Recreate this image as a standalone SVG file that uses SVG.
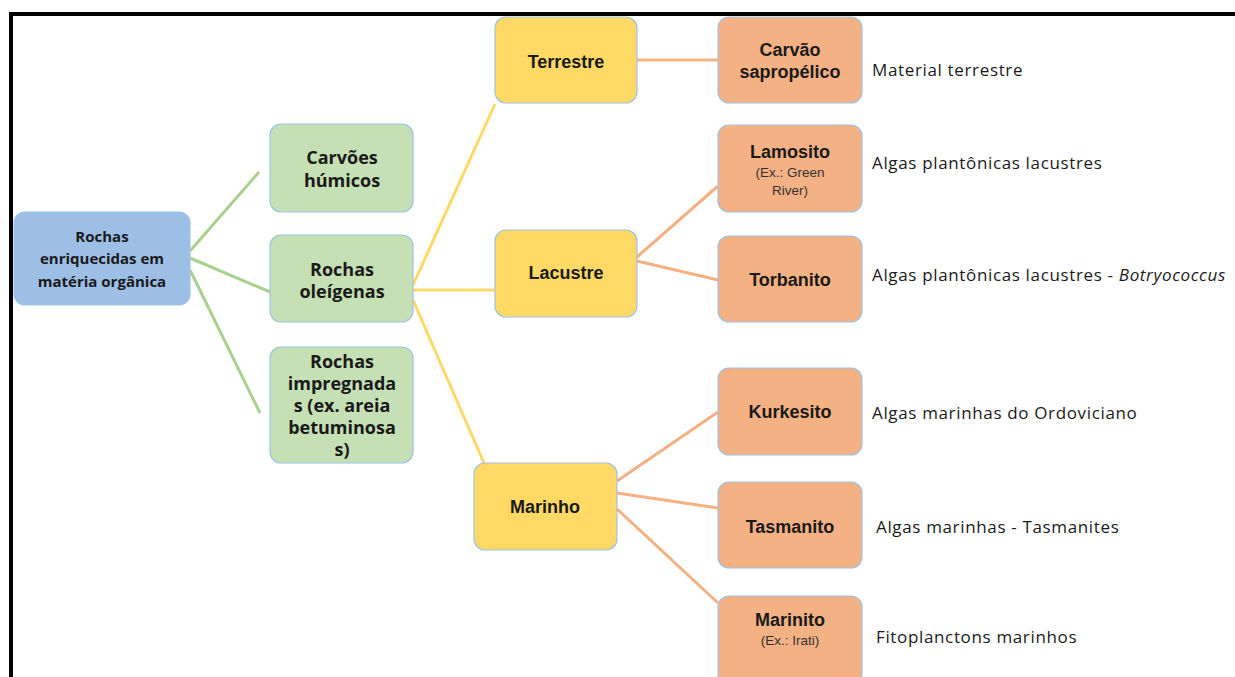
<svg xmlns="http://www.w3.org/2000/svg" width="1235" height="677" viewBox="0 0 1235 677">
<style>
.box{stroke:#9dc3e6;stroke-width:1.2}
.blue{fill:#9dbfe6}
.green{fill:#c5e0b4}
.yellow{fill:#ffd966}
.orange{fill:#f4b183}
.tc{font-family:"Open Sans",sans-serif;font-weight:bold;fill:#1a1a1a;text-anchor:middle}
.ta{font-family:"Liberation Sans",Arial,sans-serif;font-weight:bold;fill:#1a1a1a;text-anchor:middle;font-size:18px}
.small{font-family:"Liberation Sans",Arial,sans-serif;fill:#333;text-anchor:middle;font-size:13.5px}
.desc{font-family:"Open Sans",sans-serif;fill:#1a1a1a;font-size:17px;letter-spacing:0.65px}
.lg{stroke:#a9d18e;stroke-width:3;fill:none}
.ly{stroke:#ffd966;stroke-width:3;fill:none}
.lo{stroke:#f4b183;stroke-width:3;fill:none}
</style>
<rect width="1235" height="677" fill="#fff"/>
<path d="M11 677 V14 H1235" fill="none" stroke="#000" stroke-width="4"/>
<g id="connectors">
<line class="lg" x1="190" y1="251" x2="259" y2="172"/>
<line class="lg" x1="190" y1="258" x2="270" y2="292"/>
<line class="lg" x1="190" y1="270" x2="260" y2="413"/>
<line class="ly" x1="413" y1="285" x2="495" y2="104"/>
<line class="ly" x1="413" y1="290" x2="495" y2="290"/>
<line class="ly" x1="413" y1="300" x2="484" y2="463"/>
<line class="lo" x1="637" y1="60" x2="718" y2="60"/>
<line class="lo" x1="637" y1="257" x2="718" y2="186"/>
<line class="lo" x1="637" y1="261" x2="718" y2="280"/>
<line class="lo" x1="617" y1="481" x2="718" y2="412"/>
<line class="lo" x1="617" y1="493" x2="718" y2="508"/>
<line class="lo" x1="617" y1="509" x2="718" y2="603"/>
</g>
<g id="root">
<rect class="box blue" x="14" y="212" width="176" height="93" rx="11"/>
<text class="tc" font-size="15" x="102" y="242">Rochas</text>
<text class="tc" font-size="15" x="102" y="264">enriquecidas em</text>
<text class="tc" font-size="15" x="102" y="287">matéria orgânica</text>
</g>
<g id="carvoes">
<rect class="box green" x="270" y="124" width="143" height="88" rx="11"/>
<text class="tc" font-size="18" x="342" y="164">Carvões</text>
<text class="tc" font-size="18" x="342" y="187">húmicos</text>
</g>
<g id="oleigenas">
<rect class="box green" x="270" y="235" width="143" height="87" rx="11"/>
<text class="tc" font-size="18" x="342" y="276">Rochas</text>
<text class="tc" font-size="18" x="342" y="298">oleígenas</text>
</g>
<g id="impregnadas">
<rect class="box green" x="270" y="347" width="143" height="116" rx="11"/>
<text class="tc" font-size="18" x="342" y="368">Rochas</text>
<text class="tc" font-size="18" x="342" y="390">impregnada</text>
<text class="tc" font-size="18" x="342" y="412">s (ex. areia</text>
<text class="tc" font-size="18" x="342" y="434">betuminosa</text>
<text class="tc" font-size="18" x="342" y="456">s)</text>
</g>
<g id="terrestre">
<rect class="box yellow" x="495" y="17" width="142" height="86" rx="11"/>
<text class="ta" x="566" y="68">Terrestre</text>
</g>
<g id="lacustre">
<rect class="box yellow" x="495" y="230" width="142" height="87" rx="11"/>
<text class="ta" x="566" y="279">Lacustre</text>
</g>
<g id="marinho">
<rect class="box yellow" x="474" y="463" width="143" height="87" rx="11"/>
<text class="ta" x="545" y="513">Marinho</text>
</g>
<g id="carvao">
<rect class="box orange" x="718" y="17" width="144" height="86" rx="11"/>
<text class="ta" x="790" y="56">Carvão</text>
<text class="ta" x="790" y="78">sapropélico</text>
</g>
<g id="lamosito">
<rect class="box orange" x="718" y="125" width="144" height="87" rx="11"/>
<text class="ta" x="790" y="158">Lamosito</text>
<text class="small" x="790" y="177">(Ex.: Green</text>
<text class="small" x="790" y="195">River)</text>
</g>
<g id="torbanito">
<rect class="box orange" x="718" y="236" width="144" height="86" rx="11"/>
<text class="ta" x="790" y="286">Torbanito</text>
</g>
<g id="kurkesito">
<rect class="box orange" x="718" y="368" width="144" height="87" rx="11"/>
<text class="ta" x="790" y="418">Kurkesito</text>
</g>
<g id="tasmanito">
<rect class="box orange" x="718" y="482" width="144" height="86" rx="11"/>
<text class="ta" x="790" y="533">Tasmanito</text>
</g>
<g id="marinito">
<rect class="box orange" x="718" y="596" width="144" height="90" rx="11"/>
<text class="ta" x="790" y="626">Marinito</text>
<text class="small" x="790" y="645">(Ex.: Irati)</text>
</g>
<g id="descriptions">
<text class="desc" x="872" y="76">Material terrestre</text>
<text class="desc" x="872" y="169">Algas plantônicas lacustres</text>
<text class="desc" x="872" y="281">Algas plantônicas lacustres - <tspan font-style="italic">Botryococcus</tspan></text>
<text class="desc" x="872" y="419">Algas marinhas do Ordoviciano</text>
<text class="desc" x="876" y="533">Algas marinhas - Tasmanites</text>
<text class="desc" x="876" y="643">Fitoplanctons marinhos</text>
</g>
</svg>
